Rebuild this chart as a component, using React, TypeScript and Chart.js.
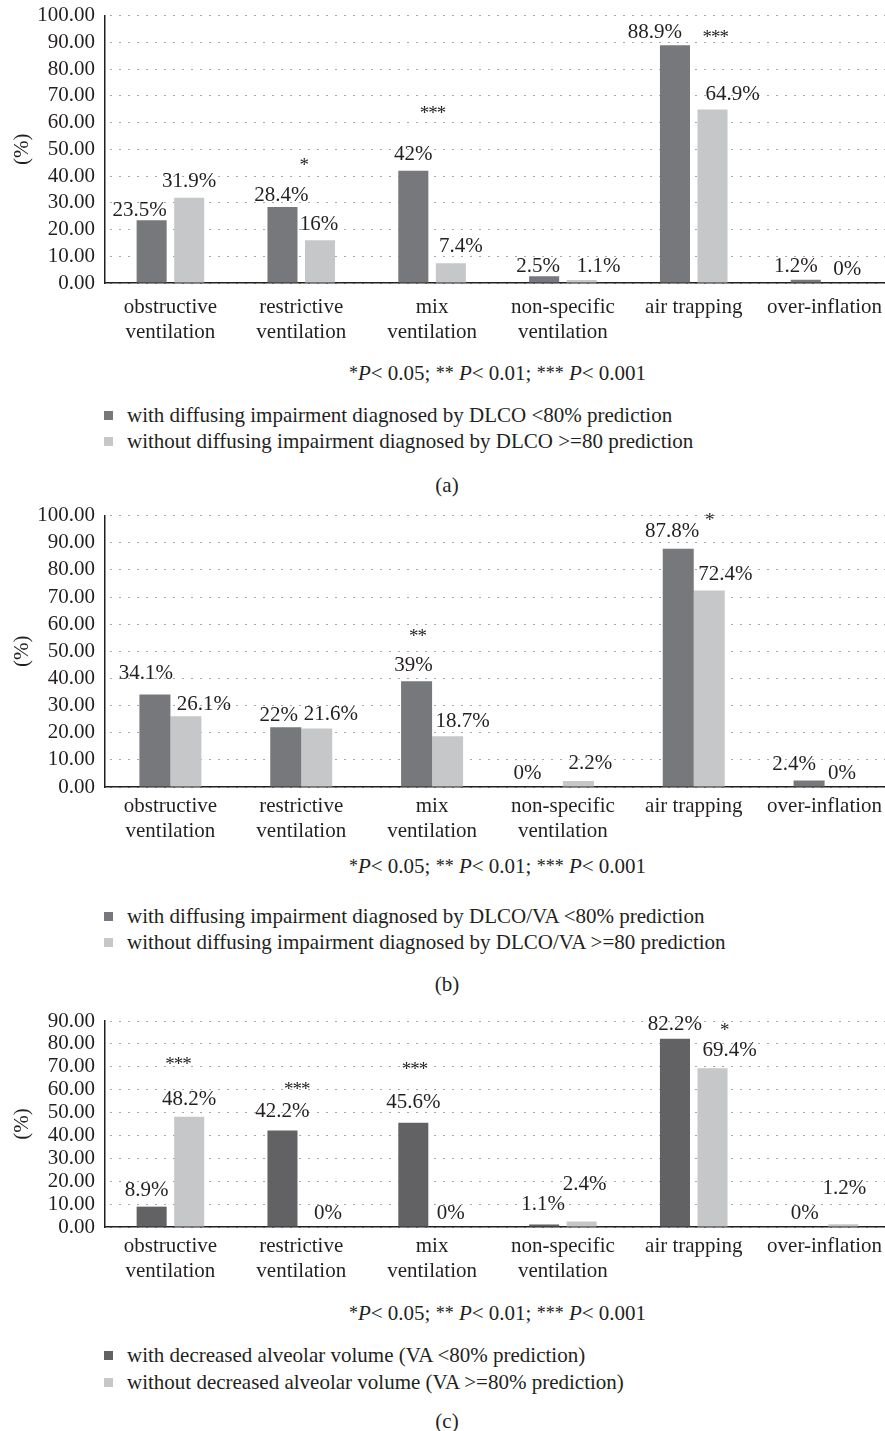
import React, { useEffect, useRef } from "react";
import { Chart, registerables } from "chart.js";

Chart.register(...registerables);

// ---------- data ----------
const CATEGORIES = [
  ["obstructive", "ventilation"],
  ["restrictive", "ventilation"],
  ["mix", "ventilation"],
  ["non-specific", "ventilation"],
  ["air trapping"],
  ["over-inflation"],
];

const A_WITH = [23.5, 28.4, 42, 2.5, 88.9, 1.2];
const A_WITHOUT = [31.9, 16, 7.4, 1.1, 64.9, 0];
const B_WITH = [34.1, 22, 39, 0, 87.8, 2.4];
const B_WITHOUT = [26.1, 21.6, 18.7, 2.2, 72.4, 0];
const C_WITH = [8.9, 42.2, 45.6, 1.1, 82.2, 0];
const C_WITHOUT = [48.2, 0, 0, 2.4, 69.4, 1.2];

const A_LEGEND = [
  "with diffusing impairment diagnosed by DLCO <80% prediction",
  "without diffusing impairment diagnosed by DLCO >=80 prediction",
];
const B_LEGEND = [
  "with diffusing impairment diagnosed by DLCO/VA <80% prediction",
  "without diffusing impairment diagnosed by DLCO/VA >=80 prediction",
];
const C_LEGEND = [
  "with decreased alveolar volume (VA <80% prediction)",
  "without decreased alveolar volume (VA >=80% prediction)",
];

// significance marks per category and the value level they sit at
const A_STARS = ["", "*", "***", "", "***", ""];
const A_STAR_LEVEL = [0, 46, 65.4, 0, 93.6, 0];
const B_STARS = ["", "", "**", "", "*", ""];
const B_STAR_LEVEL = [0, 0, 57.5, 0, 100.2, 0];
const C_STARS = ["***", "***", "***", "", "*", ""];
const C_STAR_LEVEL = [73.4, 62.4, 71.2, 0, 88.2, 0];

const A_Y_MAX = 100;
const B_Y_MAX = 100;
const C_Y_MAX = 90;
const Y_STEP = 10;

const CAPTIONS = ["(a)", "(b)", "(c)"];

// ---------- style / layout ----------
const FONT = "'Liberation Serif', 'Times New Roman', serif";
const FS = 21;
const TEXT = "#231f20";
const DARK_AB = "#77787b";
const DARK_C = "#626264";
const LIGHT = "#c6c7c9";
const GRID = "#4f4f52";

// label nudges (px) for value labels: [dark series][cat], [light series][cat]
const A_LDX = [[-12, -1, 0, -6, -20, -10], [0, -1, 10, 17, 20, 4]];
const A_LDY = [[5, 3, -1, 5, 2, 2], [-1, -1, -2, 1, 0, 1]];
const B_LDX = [[-9, -7, -3, -20, -6, -15], [18, 14, 15, 12, 16, 2]];
const B_LDY = [[-6, 3, -1, 1, -2, -1], [3, 1, 0, -3, -1, 1]];
const C_LDX = [[-5, 0, 0, -1, 0, -1], [0, 8, 0, 3, 17, 1]];
const C_LDY = [[-1, -4, -5, -5, 1, 1], [-2, 1, 1, -22, -3, -21]];
const A_SDX = [0, 3, 1, 0, 22, 0];
const B_SDX = [0, 0, -14, 0, 16, 0];
const C_SDX = [8, -4, -17, 0, 31, 0];

type Panel = {
  withVals: number[];
  withoutVals: number[];
  dark: string;
  yMax: number;
  stars: string[];
  starLevel: number[];
  sdx: number[];
  ldx: number[][];
  ldy: number[][];
  legend: string[];
  caption: string;
  canvasTop: number;
  plotTop: number;
  plotBottom: number;
  tickPad: number;
  catPct: number;
  barPct: number;
  footY: number;
  legY: number[];
  capY: number;
};

const PANELS: Panel[] = [
  {
    withVals: A_WITH, withoutVals: A_WITHOUT, dark: DARK_AB, yMax: A_Y_MAX,
    stars: A_STARS, starLevel: A_STAR_LEVEL, sdx: A_SDX, ldx: A_LDX, ldy: A_LDY,
    legend: A_LEGEND, caption: CAPTIONS[0],
    canvasTop: 0, plotTop: 15.7, plotBottom: 283.3, tickPad: 12,
    catPct: 0.574, barPct: 0.8, footY: 373, legY: [415, 441], capY: 487,
  },
  {
    withVals: B_WITH, withoutVals: B_WITHOUT, dark: DARK_AB, yMax: B_Y_MAX,
    stars: B_STARS, starLevel: B_STAR_LEVEL, sdx: B_SDX, ldx: B_LDX, ldy: B_LDY,
    legend: B_LEGEND, caption: CAPTIONS[1],
    canvasTop: 500, plotTop: 515.7, plotBottom: 787.3, tickPad: 6.5,
    catPct: 0.474, barPct: 1.0, footY: 866, legY: [916, 942], capY: 986,
  },
  {
    withVals: C_WITH, withoutVals: C_WITHOUT, dark: DARK_C, yMax: C_Y_MAX,
    stars: C_STARS, starLevel: C_STAR_LEVEL, sdx: C_SDX, ldx: C_LDX, ldy: C_LDY,
    legend: C_LEGEND, caption: CAPTIONS[2],
    canvasTop: 1005, plotTop: 1021, plotBottom: 1226.7, tickPad: 7,
    catPct: 0.574, barPct: 0.8, footY: 1313, legY: [1355, 1382], capY: 1423,
  },
];

const CANVAS_W = 890;
const X_AXIS_H = 60;
const STAR_SIZE = 19;
const STAR_GAP = 8.5;

function BarPanel({ p }: { p: Panel }) {
  const ref = useRef<HTMLCanvasElement | null>(null);
  const height = Math.round(p.plotBottom - p.canvasTop + X_AXIS_H);

  useEffect(() => {
    if (!ref.current) return;
    const annot = {
      id: "annot",
      afterDatasetsDraw(chart: any) {
        const { ctx } = chart;
        const xs = chart.scales.x;
        const ys = chart.scales.y;
        ctx.save();
        ctx.fillStyle = TEXT;
        ctx.textAlign = "center";
        ctx.font = `${FS}px ${FONT}`;
        ctx.textBaseline = "middle";
        chart.data.datasets.forEach((ds: any, di: number) => {
          const meta = chart.getDatasetMeta(di);
          meta.data.forEach((bar: any, i: number) => {
            const v = ds.data[i];
            ctx.fillText(`${v}%`, bar.x + p.ldx[di][i], bar.y - 15 + p.ldy[di][i]);
          });
        });
        ctx.font = `${STAR_SIZE}px ${FONT}`;
        ctx.textBaseline = "alphabetic";
        p.stars.forEach((s, i) => {
          if (!s) return;
          const cx = xs.getPixelForValue(i) + p.sdx[i];
          const y = ys.getPixelForValue(p.starLevel[i]);
          const n = s.length;
          for (let k = 0; k < n; k++) {
            ctx.fillText("*", cx + (k - (n - 1) / 2) * STAR_GAP, y + 0.56 * STAR_SIZE);
          }
        });
        ctx.restore();
      },
    };

    const chart = new Chart(ref.current, {
      type: "bar",
      data: {
        labels: CATEGORIES as any,
        datasets: [
          {
            label: p.legend[0],
            data: p.withVals,
            backgroundColor: p.dark,
            borderWidth: 0,
            categoryPercentage: p.catPct,
            barPercentage: p.barPct,
          },
          {
            label: p.legend[1],
            data: p.withoutVals,
            backgroundColor: LIGHT,
            borderWidth: 0,
            categoryPercentage: p.catPct,
            barPercentage: p.barPct,
          },
        ],
      },
      options: {
        animation: false,
        responsive: false,
        devicePixelRatio: 1,
        layout: { padding: { top: p.plotTop - p.canvasTop, left: 0, right: 0, bottom: 0 } },
        plugins: { legend: { display: false }, tooltip: { enabled: false } },
        scales: {
          x: {
            grid: { display: false, drawTicks: false },
            border: { display: true, color: TEXT, width: 1.5 },
            ticks: {
              color: TEXT,
              font: { family: FONT, size: FS, lineHeight: "25px" } as any,
              padding: p.tickPad,
              maxRotation: 0,
              autoSkip: false,
            },
            afterFit: (s: any) => {
              s.height = X_AXIS_H;
              s.paddingLeft = 0;
              s.paddingRight = 0;
            },
          },
          y: {
            min: 0,
            max: p.yMax,
            grid: { color: GRID, lineWidth: 1, drawTicks: false },
            border: { display: true, color: TEXT, width: 1.5, dash: [1, 8], dashOffset: -5 },
            ticks: {
              stepSize: Y_STEP,
              color: TEXT,
              font: { family: FONT, size: FS },
              padding: 10,
              autoSkip: false,
              callback: (v: any) => Number(v).toFixed(2),
            },
            title: {
              display: true,
              text: "(%)",
              color: TEXT,
              font: { family: FONT, size: FS },
              padding: { top: 10, bottom: 0 },
            },
            afterFit: (s: any) => {
              s.width = 105;
              s.paddingTop = 0;
              s.paddingBottom = 0;
            },
          },
        },
      },
      plugins: [annot],
    });
    return () => chart.destroy();
  }, [p]);

  const line: React.CSSProperties = {
    position: "absolute",
    fontSize: FS,
    lineHeight: "24px",
    whiteSpace: "nowrap",
    color: TEXT,
    fontFamily: FONT,
  };
  const star: React.CSSProperties = { fontSize: 18, position: "relative", top: -1 };

  return (
    <>
      <canvas
        ref={ref}
        width={CANVAS_W}
        height={height}
        style={{ position: "absolute", left: 0, top: p.canvasTop, width: CANVAS_W, height }}
      />
      <div style={{ ...line, left: 105, width: 785, top: p.footY - 12, textAlign: "center" }}>
        <span style={star}>*</span>
        <i>P</i>&lt; 0.05; <span style={star}>**</span> <i>P</i>&lt; 0.01;{" "}
        <span style={star}>***</span> <i>P</i>&lt; 0.001
      </div>
      {p.legend.map((t, i) => (
        <div key={i} style={{ ...line, left: 104, top: p.legY[i] - 12 }}>
          <span
            style={{
              display: "inline-block",
              width: 9,
              height: 9,
              background: i === 0 ? p.dark : LIGHT,
              marginRight: 14,
              verticalAlign: "middle",
              position: "relative",
              top: -2,
            }}
          />
          {t}
        </div>
      ))}
      <div style={{ ...line, left: 0, width: 894, top: p.capY - 14, textAlign: "center" }}>{p.caption}</div>
    </>
  );
}

export default function App() {
  return (
    <div
      style={{
        position: "absolute",
        left: 0,
        top: 0,
        width: 885,
        height: 1431,
        overflow: "hidden",
        background: "#ffffff",
      }}
    >
      {PANELS.map((p, i) => (
        <BarPanel key={i} p={p} />
      ))}
    </div>
  );
}
